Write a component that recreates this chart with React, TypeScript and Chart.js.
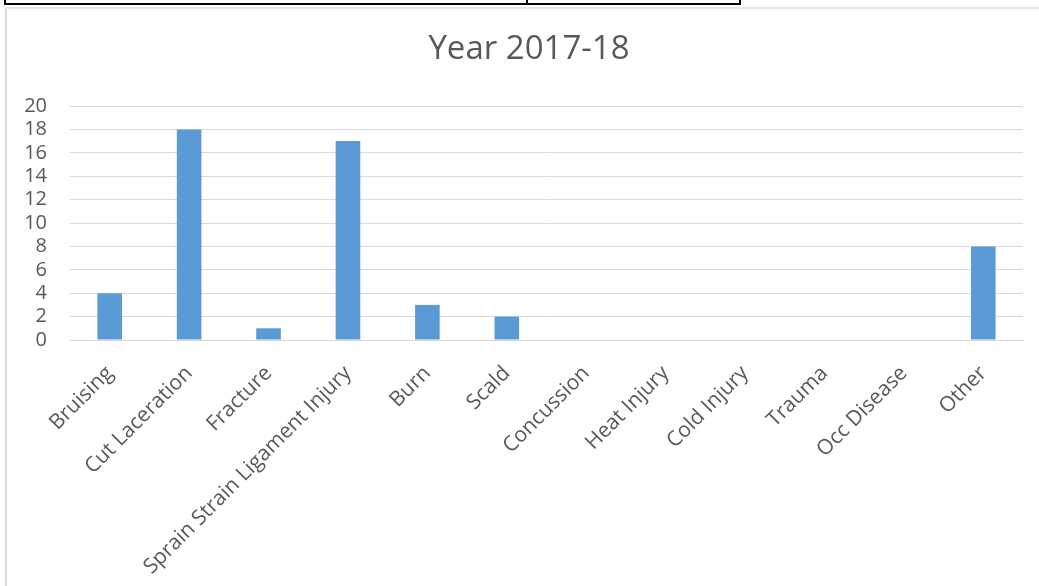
import React, { useEffect, useRef } from "react";
import { Chart, registerables } from "chart.js";

Chart.register(...registerables);

const categories = [
  "Bruising",
  "Cut Laceration",
  "Fracture",
  "Sprain Strain Ligament Injury",
  "Burn",
  "Scald",
  "Concussion",
  "Heat Injury",
  "Cold Injury",
  "Trauma",
  "Occ Disease",
  "Other",
];
const values = [4, 18, 1, 17, 3, 2, 0, 0, 0, 0, 0, 8];
const yTicks = [0, 2, 4, 6, 8, 10, 12, 14, 16, 18, 20];
const title = "Year 2017-18";

const titlePlugin = {
  id: "centerTitle",
  afterDraw(chart: any) {
    const ctx = chart.ctx;
    ctx.save();
    ctx.fillStyle = "#595959";
    ctx.font = "33px 'Open Sans'";
    ctx.textAlign = "center";
    ctx.textBaseline = "middle";
    ctx.fillText(title, 529, 50);
    ctx.restore();
  },
};

export default function App() {
  const ref = useRef<HTMLCanvasElement | null>(null);
  useEffect(() => {
    if (!ref.current) return;
    const chart = new Chart(ref.current, {
      type: "bar",
      data: {
        labels: categories,
        datasets: [
          {
            data: values,
            backgroundColor: "#5B9BD5",
            barPercentage: 0.31,
            categoryPercentage: 1,
          },
        ],
      },
      plugins: [titlePlugin],
      options: {
        animation: false,
        responsive: false,
        layout: { padding: { left: 0, right: 16, top: 106, bottom: 0 } },
        plugins: {
          legend: { display: false },
          tooltip: { enabled: false },
          title: { display: false },
        },
        scales: {
          x: {
            grid: { display: false, drawTicks: false },
            border: { color: "#D9D9D9", width: 1 },
            ticks: {
              color: "#595959",
              font: { family: "'Open Sans'", size: 21 },
              maxRotation: 45,
              minRotation: 45,
              padding: 21,
              autoSkip: false,
            },
            afterFit: (s: any) => {
              s.height = 246;
            },
          },
          y: {
            min: 0,
            max: 20,
            afterBuildTicks: (s: any) => {
              s.ticks = yTicks.map((v) => ({ value: v }));
            },
            grid: { color: "#D9D9D9", drawTicks: false },
            border: { display: false },
            ticks: {
              color: "#595959",
              font: { family: "'Open Sans'", size: 20 },
              padding: 23,
              autoSkip: false,
            },
            afterFit: (s: any) => {
              s.width = 70;
            },
          },
        },
      },
    });
    return () => chart.destroy();
  }, []);

  return (
    <div
      style={{
        position: "fixed",
        left: 0,
        top: 0,
        width: 1039,
        height: 586,
        background: "#fff",
        overflow: "hidden",
      }}
    >
      <canvas
        ref={ref}
        width={1039}
        height={586}
        style={{ position: "absolute", left: 0, top: 0, width: 1039, height: 586 }}
      />
      <div
        style={{
          position: "absolute",
          left: 4,
          top: -2,
          width: 733,
          height: 5,
          borderLeft: "2px solid #000",
          borderRight: "2px solid #000",
          borderBottom: "2px solid #000",
        }}
      />
      <div
        style={{
          position: "absolute",
          left: 526,
          top: 0,
          width: 2,
          height: 5,
          background: "#000",
        }}
      />
      <div
        style={{
          position: "absolute",
          left: 5,
          top: 7,
          width: 1034,
          height: 600,
          borderLeft: "2px solid #D9D9D9",
          borderTop: "2px solid #E6E6E6",
        }}
      />
    </div>
  );
}
